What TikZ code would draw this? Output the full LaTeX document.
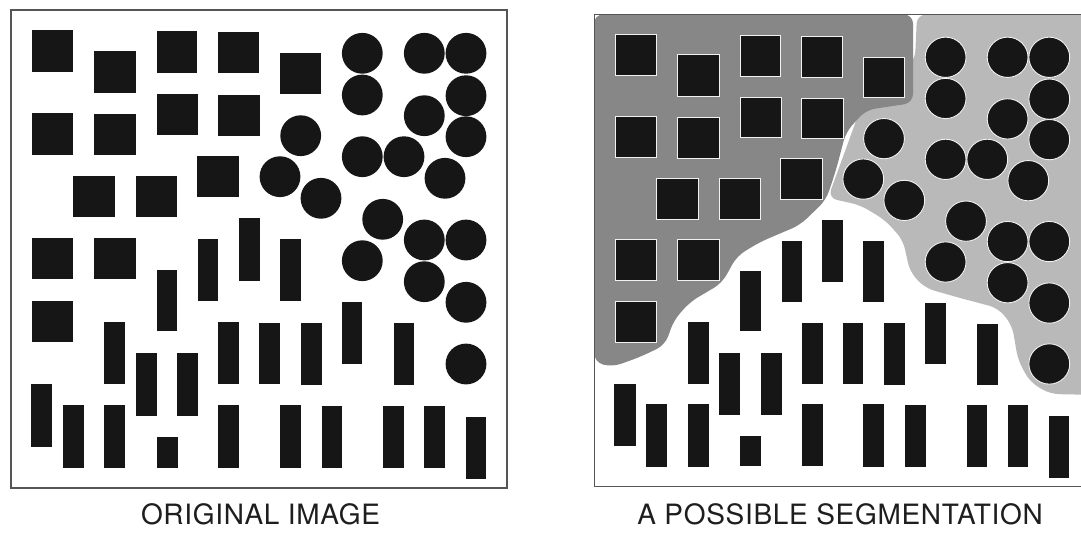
\documentclass[tikz,border=0pt]{standalone}
\usepackage{fontspec}
\setmainfont{TeX Gyre Heros}
\newfontfamily\capfont[LetterSpace=2.5]{TeX Gyre Heros}
\definecolor{inkc}{HTML}{161616}
\definecolor{darkreg}{HTML}{878787}
\definecolor{lightreg}{HTML}{B9B9B9}
\definecolor{framec}{HTML}{555555}
\definecolor{textc}{HTML}{1E1E1E}
\newcommand\drawblobs[1]{%
  \foreach \a/\b/\c/\d in {31.7/30/73.3/71.7, 94.3/50.7/136/92.7, 156.7/31/197.3/72.7, 218.3/32.3/259/73.3, 280/53.3/321/94.3,
    31.7/113.3/73.3/155, 94.3/114/136/155.3, 156.7/94/198.3/135, 218.3/94.7/260/135.7,
    73.3/175.7/115/217.3, 136/175.7/177.3/217.3, 197.3/155.7/239/197.3,
    31.7/238/73.3/279.3, 94.3/238/136/279.3, 31.7/300.7/73.3/341.7}
    {\fill[blob,#1] (\a,\b) rectangle (\c,\d);}
  \foreach \a/\b/\c/\d in {239/218/260/281, 198.3/239/218.3/301, 280/239/301/301, 156.7/270/177.3/331,
    104.3/321.7/125.3/384, 135.7/353.3/156.7/415.7, 177.3/353.3/198.3/415.7, 218.3/322.3/239.3/384.3,
    259.3/322.7/280/384.3, 300.7/322.7/321.7/385, 341.7/302.3/362.3/364, 394/323.3/414.3/385,
    31/384/52.3/446.7, 62.7/405/83.7/468.3, 104.3/405/125.3/468.3, 156.7/437.3/177.7/467.7,
    218.3/405/239.3/467.7, 280/405/301/468.3, 321.7/405.7/342.3/468.3, 383.3/405.7/404/468.3,
    424.3/405.7/445/468.3, 466/416.7/486/479.3}
    {\fill[blob] (\a,\b) rectangle (\c,\d);}
  \foreach \x/\y in {362.3/53.3, 362.3/95, 424.3/53.3, 466/53.3, 466/95.7, 424.3/115.7, 466/136.7,
    300.7/135.7, 362.3/156.7, 404/156.7, 280/176.7, 321/198.3, 445/178.3, 382.7/219.3,
    424.3/240, 466/240, 362.3/260.7, 424.3/281.7, 466/302.3, 466/364}
    {\filldraw[blob,#1] (\x,\y) circle[radius=20.4];}
}
\begin{document}
\begin{tikzpicture}[x=1pt,y=-1pt,
  blob/.style={fill=inkc,draw=none},
  halo/.style={draw=white!80!lightreg,line width=0.9pt},
  panel/.style={draw=framec,line width=1.1pt},
  caption/.style={font=\capfont\fontsize{28}{32}\selectfont,text=textc,inner sep=0pt}]
\useasboundingbox (0,0) rectangle (1081,535);
\clip (0,0) rectangle (1081,535);
\fill[white] (0,0) rectangle (1081,535);
% left panel: original image
\drawblobs{}
\draw[panel] (11,10) rectangle (507,488);
% right panel: segmentation regions
\fill[lightreg,rounded corners=9pt] (917,14.5) -- (1100,14.5) -- (1100,395) -- (1050,394) -- (1030,382)
  -- (1018,360) -- (1012,325) -- (998,308) -- (960,298) -- (925,288) -- (910,272) -- (903,240)
  -- (885,220) -- (860,205) -- (828,198) -- (860,110) -- (915,60) -- cycle;
\fill[darkreg,rounded corners=9pt] (594,362) -- (594,14.5) -- (913,14.5) -- (913,103) -- (866,110)
  -- (846,132) -- (836,170) -- (826,200) -- (800,225) -- (760,242) -- (737,256) -- (722,283)
  -- (690,302) -- (674,320) -- (665,345) -- (640,357) -- (612,367) -- cycle;
\begin{scope}[xshift=583.3pt,yshift=-4.69pt,yscale=0.987]
  \drawblobs{halo}
  \draw[panel] (11,10) rectangle (507,488);
\end{scope}
% captions
\node[caption,anchor=base] (cap1) at (260.5,524) {ORIGINAL IMAGE};
\node[caption,anchor=base] (cap2) at (840,524) {A POSSIBLE SEGMENTATION};
\end{tikzpicture}
\end{document}
